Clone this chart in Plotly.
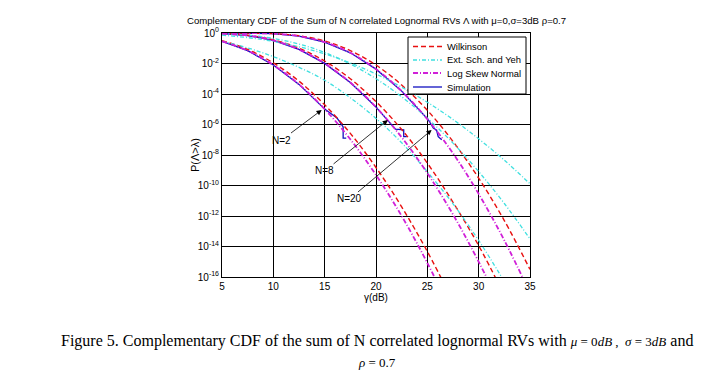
import plotly.graph_objects as go

# gamma (dB) sample points
X_DB = [5, 7.5, 10, 12.5, 15, 17.5, 20, 22.5, 25, 27.5, 30, 32.5, 35]

# log10 P(Lambda > lambda)
WILK_N2 = [-0.50, -1.08, -1.96, -3.16, -4.71, -6.58, -8.82, -11.4, -14.33, -17.6, None, None, None]
WILK_N8 = [-0.033, -0.151, -0.446, -0.993, -1.837, -3.0, -4.50, -6.33, -8.53, -11.1, -13.94, -17.2, None]
WILK_N20 = [-0.0003, -0.005, -0.040, -0.18, -0.525, -1.152, -2.10, -3.41, -5.07, -7.11, -9.52, -12.3, -15.5]

ESY_N2 = [-0.55, -0.98, -1.55, -2.25, -3.1, -4.25, -5.6, -7.2, -9.1, -11.2, -13.6, -16.3, None]
ESY_N8 = [-0.042, -0.141, -0.355, -0.724, -1.277, -2.031, -2.997, -4.18, -5.59, -7.22, -9.09, -11.18, -13.5]
ESY_N20 = [-0.145, -0.301, -0.549, -0.902, -1.373, -1.969, -2.69, -3.55, -4.54, -5.67, -6.94, -8.34, -9.89]

LSN_N2 = [-0.54, -1.16, -2.10, -3.37, -4.99, -6.97, -9.31, -12.0, -15.08, -18.5, None, None, None]
LSN_N8 = [-0.035, -0.163, -0.486, -1.08, -1.995, -3.25, -4.86, -6.84, -9.19, -11.9, -15.0, -18.4, None]
LSN_N20 = [-0.0003, -0.005, -0.045, -0.206, -0.598, -1.30, -2.37, -3.81, -5.65, -7.89, -10.55, -13.6, -17.05]

SIM_N2_X = [5, 7.5, 10, 12.5, 15, 16.2, 16.8, 16.8, 17.1]
SIM_N2 = [-0.54, -1.16, -2.10, -3.37, -4.99, -5.57, -6.16, -6.89, -6.89]
SIM_N8_X = [5, 7.5, 10, 12.5, 15, 17.5, 20, 21.0, 21.9, 22.7, 22.7, 23.0]
SIM_N8 = [-0.035, -0.163, -0.486, -1.08, -1.995, -3.25, -4.86, -5.6, -6.3, -6.35, -6.8, -6.8]
SIM_N20_X = [5, 7.5, 10, 12.5, 15, 17.5, 20, 22.5, 25.1, 25.6, 25.9, 26.06, 26.4]
SIM_N20 = [-0.0003, -0.005, -0.045, -0.206, -0.598, -1.30, -2.37, -3.81, -5.7, -6.25, -6.36, -6.8, -7.0]

Y_TICKS = [0, -2, -4, -6, -8, -10, -12, -14, -16]
X_TICKS = [5, 10, 15, 20, 25, 30, 35]

LABELS = [("N=2", 14.71, -5.05, -40, 30), ("N=8", 21.16, -5.70, -63, 51), ("N=20", 25.42, -6.36, -82, 69)]

LEGEND_NAMES = ["Wilkinson", "Ext. Sch. and Yeh", "Log Skew Normal", "Simulation"]

# styles
C_WILK, C_ESY, C_LSN, C_SIM = "#e81010", "#40e0e0", "#d020d8", "#1010c0"
D_WILK, D_ESY, D_LSN, D_SIM = "5px,3px", "4px,2px,1px,2px", "5px,2px,1px,2px", "solid"
W_WILK, W_ESY, W_LSN, W_SIM = 1.4, 1.3, 1.8, 1.3

# plot area in pixels
L, T, R, B = 222, 33, 530, 277


def px(xp, yp):
    return (xp - L) / (R - L), (B - yp) / (B - T)


def pw(v):
    return [None if a is None else 10 ** a for a in v]


def join(xs_list, ys_list):
    X, Y = [], []
    for xs, ys in zip(xs_list, ys_list):
        X += list(xs) + [None]
        Y += pw(ys) + [None]
    return X, Y


fig = go.Figure()

sx, sy = join([SIM_N2_X, SIM_N8_X, SIM_N20_X], [SIM_N2, SIM_N8, SIM_N20])
fig.add_trace(go.Scatter(x=sx, y=sy, mode="lines", name=LEGEND_NAMES[3],
                         line=dict(color=C_SIM, width=W_SIM)))

wx, wy = join([X_DB] * 3, [WILK_N2, WILK_N8, WILK_N20])
fig.add_trace(go.Scatter(x=wx, y=wy, mode="lines", name=LEGEND_NAMES[0],
                         line=dict(color=C_WILK, width=W_WILK, dash=D_WILK, shape="spline")))

ex, ey = join([X_DB] * 3, [ESY_N2, ESY_N8, ESY_N20])
fig.add_trace(go.Scatter(x=ex, y=ey, mode="lines", name=LEGEND_NAMES[1],
                         line=dict(color=C_ESY, width=W_ESY, dash=D_ESY, shape="spline")))

lx, ly = join([X_DB] * 3, [LSN_N2, LSN_N8, LSN_N20])
fig.add_trace(go.Scatter(x=lx, y=ly, mode="lines", name=LEGEND_NAMES[2],
                         line=dict(color=C_LSN, width=W_LSN, dash=D_LSN, shape="spline")))

for txt, x, y, ax, ay in LABELS:
    fig.add_annotation(x=x, y=y, text=txt, showarrow=True, arrowhead=2, arrowsize=1.3,
                       arrowwidth=0.8, arrowcolor="#000", ax=ax, ay=ay,
                       font=dict(family="Liberation Sans", size=10, color="#000"))

# legend box (drawn by hand, MATLAB style)
x0, y0 = px(408, 94)
x1, y1 = px(526, 37)
fig.add_shape(type="rect", xref="paper", yref="paper", x0=x0, y0=y0, x1=x1, y1=y1,
              line=dict(color="#000", width=1), fillcolor="white", layer="above")
rows = [46.5, 60, 73, 87]
styles = [(C_WILK, D_WILK, W_WILK), (C_ESY, D_ESY, W_ESY), (C_LSN, D_LSN, W_LSN), (C_SIM, D_SIM, W_SIM)]
for name, yr, (c, d, w) in zip(LEGEND_NAMES, rows, styles):
    a0, b0 = px(413, yr)
    a1, _ = px(442, yr)
    fig.add_shape(type="line", xref="paper", yref="paper", x0=a0, y0=b0, x1=a1, y1=b0,
                  line=dict(color=c, width=w, dash=d), layer="above")
    tx, _ = px(445, yr)
    fig.add_annotation(xref="paper", yref="paper", x=tx, y=b0, xanchor="left", yanchor="middle",
                       text=name, showarrow=False,
                       font=dict(family="Liberation Sans", size=9.4, color="#000"))

fig.add_annotation(xref="paper", yref="paper", x=0.5, y=1.0, yanchor="bottom", yshift=5,
                   text="Complementary CDF of the Sum of N correlated Lognormal RVs Λ with μ=0,σ=3dB ρ=0.7",
                   showarrow=False, font=dict(family="Liberation Sans", size=9.6, color="#000"))

gx, gy = px(376, 297)
fig.add_annotation(xref="paper", yref="paper", x=gx, y=gy, yanchor="middle", showarrow=False,
                   text="γ(dB)", font=dict(family="Liberation Sans", size=10, color="#000"))

yx, yy = px(187, 155)
fig.add_annotation(xref="paper", yref="paper", x=yx, y=yy, textangle=-90, showarrow=False,
                   text="P(Λ>λ)", font=dict(family="Liberation Sans", size=11, color="#000"))

cx, cy = px(377, 341)
fig.add_annotation(xref="paper", yref="paper", x=cx, y=cy, yanchor="middle", showarrow=False,
                   text=("Figure 5. Complementary CDF of the sum of N correlated lognormal RVs with "
                         "<span style='font-size:13px'><i>μ</i> = 0<i>dB</i> ,  <i>σ</i> = 3<i>dB</i></span> and"),
                   font=dict(family="Liberation Serif", size=16, color="#000"))
rx, ry = px(377, 362)
fig.add_annotation(xref="paper", yref="paper", x=rx, y=ry, yanchor="middle", showarrow=False,
                   text="<i>ρ</i> = 0.7",
                   font=dict(family="Liberation Serif", size=13, color="#000"))

fig.update_xaxes(range=[5, 35], tickvals=X_TICKS, ticktext=[str(t) for t in X_TICKS],
                 showgrid=True, gridcolor="#000", gridwidth=1, showline=True, linecolor="#000",
                 linewidth=1, mirror="ticks", ticks="inside", ticklen=3, tickcolor="#000",
                 zeroline=False, tickfont=dict(family="Liberation Sans", size=10, color="#000"))
fig.update_yaxes(type="log", range=[-16, 0], tickvals=[10 ** t for t in Y_TICKS],
                 ticktext=["10<sup>%d</sup>" % t for t in Y_TICKS],
                 showgrid=True, gridcolor="#000", gridwidth=1, showline=True, linecolor="#000",
                 linewidth=1, mirror="ticks", ticks="inside", ticklen=3, tickcolor="#000",
                 zeroline=False, tickfont=dict(family="Liberation Sans", size=10, color="#000"))

fig.update_layout(
    width=727, height=376, margin=dict(l=L, r=727 - R, t=T, b=376 - B),
    paper_bgcolor="white", plot_bgcolor="white", showlegend=False,
)

fig.write_html("out.html", config={"displayModeBar": False},
               post_script="document.body.style.margin='0';document.body.style.overflow='hidden';")
